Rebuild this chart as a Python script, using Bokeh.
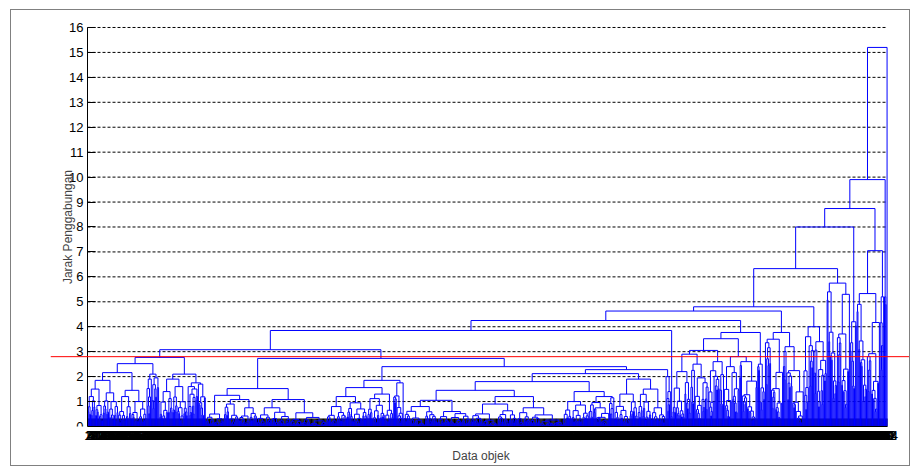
from bokeh.plotting import figure
from bokeh.models import FixedTicker, Span, Range1d
from bokeh.embed import file_html
from bokeh.resources import INLINE

# ---------------- data ----------------
Y_TICKS = list(range(0, 17))
CUT_HEIGHT = 2.8
X_LABEL = "Data objek"
Y_LABEL = "Jarak Penggabungan"

# leaf groups (left to right): size, top merge height, spiky shape flag
GROUP_NAME = ["g01", "g02", "g03", "g04", "g05", "g06", "g07", "g08", "g09", "g10",
              "g11", "g12", "g13", "g14", "g15", "g16", "g17", "g18", "g19", "g20",
              "g21", "g22", "g23", "g24", "g25", "g26", "g27", "g28", "g29", "g30",
              "g31", "g32", "g33", "g34", "g35", "g36", "g37", "g38", "g39", "g40",
              "g41", "g42", "g43", "g44", "g45", "g46", "g47"]
GROUP_SIZE = [18, 18, 15, 18, 6, 9, 15, 18, 12, 9,
              21, 18, 21, 39, 42, 24, 24, 30, 12, 39,
              39, 54, 54, 30, 30, 27, 33, 6, 2, 21,
              21, 18, 18, 21, 9, 21, 24, 12, 15, 12,
              15, 8, 12, 15, 5, 3, 1]
GROUP_HEIGHT = [1.50, 1.35, 1.20, 1.00, 1.90, 1.95, 1.40, 1.60, 1.60, 1.70,
                0.50, 0.90, 0.75, 0.75, 0.55, 0.80, 0.95, 1.30, 1.75, 0.80,
                0.60, 0.90, 0.75, 1.00, 1.20, 1.30, 1.50, 2.00, 0.40, 2.20,
                2.50, 2.60, 2.40, 2.60, 2.50, 3.50, 3.20, 3.60, 3.40, 5.40,
                5.30, 4.20, 4.90, 4.17, 5.20, 5.20, 0.00]
GROUP_SPIKY = [0, 0, 0, 0, 1, 1, 0, 0, 1, 1,
               0, 0, 0, 0, 0, 0, 0, 0, 1, 0,
               0, 0, 0, 0, 1, 0, 0, 1, 0, 0,
               1, 1, 1, 1, 1, 1, 1, 1, 1, 1,
               1, 1, 1, 1, 1, 1, 0]

# upper merges: name, left child, right child, merge height
NODE_NAME = ["l1aaa", "l1aab", "l1aa", "l1ab", "l1a", "l1ba", "l1bb", "l1b", "l1",
             "m1a2", "m1a", "m1b", "m1", "r1aa", "r1a", "r1", "r6a", "r6b", "r6",
             "r7", "r4", "r5", "r3", "r2", "nr", "nm", "nl", "n1",
             "qb1", "qb", "qc", "qa", "q", "p", "s1", "m4", "s2", "h", "s3", "g",
             "e", "f1", "f", "c", "a", "root"]
NODE_LEFT = ["g01", "g03", "l1aaa", "g05", "l1aa", "g07", "g09", "l1ba", "l1a",
             "g12", "g11", "g14", "m1a", "g16", "r1aa", "r1a", "g20", "g22", "r6a",
             "g24", "r6", "g26", "r4", "r3", "r1", "m1", "l1", "nl",
             "g30", "qb1", "g33", "qb", "qa", "n1", "g36", "p", "g38", "m4", "g40", "h",
             "g", "g43", "f1", "e", "c", "a"]
NODE_RIGHT = ["g02", "g04", "l1aab", "g06", "l1ab", "g08", "g10", "l1bb", "l1b",
              "g13", "m1a2", "g15", "m1b", "g17", "g18", "g19", "g21", "g23", "r6b",
              "g25", "r7", "g27", "r5", "g28", "r2", "nr", "nm", "g29",
              "g31", "g32", "g34", "qc", "g35", "q", "g37", "s1", "g39", "s2", "g41", "s3",
              "g42", "g44", "g45", "f", "g46", "g47"]
NODE_HEIGHT = [1.85, 1.45, 2.16, 2.10, 2.52, 1.90, 1.75, 2.10, 2.77,
               1.08, 1.25, 1.08, 1.52, 1.20, 1.56, 1.85, 1.05, 1.20, 1.45,
               1.40, 1.80, 1.90, 2.12, 2.28, 2.40, 2.73, 3.08, 3.85,
               2.90, 3.05, 2.80, 3.52, 3.77, 4.25, 3.77, 4.63, 4.00, 4.80, 5.75, 6.33,
               8.00, 5.33, 7.05, 8.74, 9.90, 15.20]

# fine structure inside each group (fixed patterns of split shares and height ratios)
BUSHY_SHARES = [0.5, 0.4, 0.6, 0.45, 0.35, 0.55, 0.65, 0.3]
BUSHY_RATIOS = [0.80, 0.66, 0.74, 0.56, 0.86, 0.62, 0.70, 0.50, 0.76]
SPIKY_SHARES = [0.15, 0.8, 0.25, 0.9, 0.35, 0.1, 0.7, 0.5]
SPIKY_RATIOS = [0.94, 0.80, 0.90, 0.70, 0.96, 0.78, 0.86, 0.62]

TICK_LEN = 0.32  # inward leaf tick length, in distance units (about 8 px)

# ---------------- build dendrogram paths ----------------
g_idx = {n: i for i, n in enumerate(GROUP_NAME)}
n_idx = {n: i for i, n in enumerate(NODE_NAME)}
paths_x, paths_y = [], []
state = {"leaf": 0, "k": 0}


def place_leaf():
    state["leaf"] += 1
    return (float(state["leaf"]), 0.0)


def join(l, r, h):
    paths_x.append([l[0], l[0], r[0], r[0]])
    paths_y.append([l[1], h, h, r[1]])
    return ((l[0] + r[0]) / 2.0, h)


def expand(n, h, spiky):
    if n == 1:
        return place_leaf()
    k = state["k"]
    state["k"] += 1
    shares = SPIKY_SHARES if spiky else BUSHY_SHARES
    ratios = SPIKY_RATIOS if spiky else BUSHY_RATIOS
    nl = min(n - 1, max(1, int(round(n * shares[k % len(shares)]))))
    left = expand(nl, h * ratios[k % len(ratios)], spiky)
    right = expand(n - nl, h * ratios[(k + 3) % len(ratios)], spiky)
    return join(left, right, h)


def build(name):
    if name in g_idx:
        i = g_idx[name]
        return expand(GROUP_SIZE[i], GROUP_HEIGHT[i], GROUP_SPIKY[i])
    j = n_idx[name]
    return join(build(NODE_LEFT[j]), build(NODE_RIGHT[j]), NODE_HEIGHT[j])


build("root")
N = state["leaf"]
LEAF_POS = [float(i) for i in range(1, N + 1)]
LEAF_LABELS = [str(i) for i in range(1, N + 1)]

# ---------------- figure ----------------
px_per_leaf = 800.0 / N
x_start = 0.5 - 37.0 / px_per_leaf
x_end = N + 0.5 + 24.0 / px_per_leaf

p = figure(width=900, height=457, output_backend="svg", toolbar_location=None,
           x_range=Range1d(x_start, x_end), y_range=Range1d(0, 16.4),
           min_border_left=39, min_border_right=0, min_border_top=7,
           min_border_bottom=41)
p.outline_line_color = None
p.background_fill_color = "white"
p.border_fill_color = "white"
p.xgrid.visible = False
p.ygrid.visible = False
p.styles = {"border": "1px solid #808080", "margin-left": "10px", "margin-top": "9px"}

FONT = "Liberation Sans"

# horizontal dashed grid lines, only over the leaves' extent
grid_y = [t for t in Y_TICKS if t > 0]
p.segment(x0=[0.5] * len(grid_y), y0=grid_y, x1=[N + 0.5] * len(grid_y), y1=grid_y,
          line_color="black", line_width=1, line_dash="3 2")

# inward leaf ticks (drawn beneath the tree, as in the reference)
p.segment(x0=LEAF_POS, y0=[0.0] * N, x1=LEAF_POS, y1=[TICK_LEN] * N,
          line_color="black", line_width=1)

# dendrogram
p.multi_line(xs=paths_x, ys=paths_y, line_color="#0000ff", line_width=1)

# cut-off line
p.add_layout(Span(location=CUT_HEIGHT, dimension="width", line_color="#ff0000",
                  line_width=1))

# y axis at the left end of the leaves
ya = p.yaxis[0]
ya.fixed_location = 0.5
ya.bounds = (0, 16)
ya.ticker = FixedTicker(ticks=Y_TICKS)
ya.major_tick_in = 8
ya.major_tick_out = 0
ya.minor_tick_line_color = None
ya.major_label_standoff = 4
ya.major_label_text_font = FONT
ya.major_label_text_font_size = "13px"
ya.major_label_text_color = "black"
ya.axis_label = Y_LABEL
ya.axis_label_text_font = FONT
ya.axis_label_text_font_size = "12px"
ya.axis_label_text_font_style = "normal"
ya.axis_label_standoff = -9
ya.axis_line_color = "black"

xa = p.xaxis[0]
xa.bounds = (0.5, N + 0.5)
xa.ticker = FixedTicker(ticks=LEAF_POS)
xa.major_label_overrides = {pos: lab for pos, lab in zip(LEAF_POS, LEAF_LABELS)}
xa.major_tick_in = 0
xa.major_tick_out = 0
xa.minor_tick_line_color = None
xa.major_label_standoff = 4
xa.major_label_text_font = FONT
xa.major_label_text_font_size = "13px"
xa.major_label_text_color = "black"
xa.axis_label = X_LABEL
xa.axis_label_text_font = FONT
xa.axis_label_text_font_size = "12px"
xa.axis_label_text_font_style = "normal"
xa.axis_label_standoff = 6
xa.axis_line_color = "black"

open("out.html", "w").write(file_html(p, INLINE))
